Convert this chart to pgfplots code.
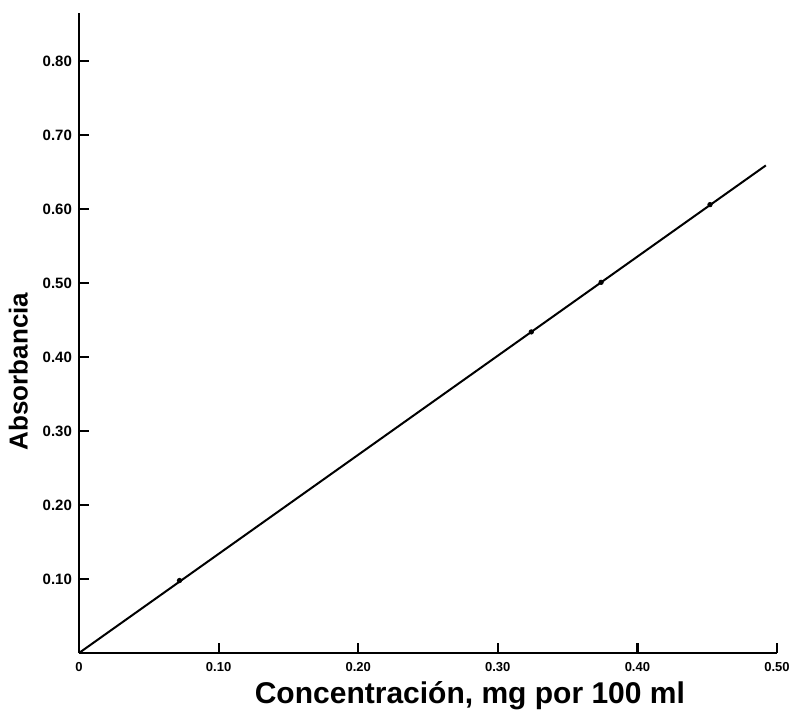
\documentclass[border=0pt]{standalone}
\usepackage{fontspec}
\setmainfont{Liberation Sans}
\usepackage{pgfplots}
\pgfplotsset{compat=1.18}
\begin{document}
\begin{tikzpicture}
\path[use as bounding box] (-39.5pt,-30pt) rectangle (355.5pt,326.5pt);
\begin{axis}[
  at={(0,0)}, anchor=south west,
  scale only axis,
  width=349pt, height=320pt,
  xmin=0, xmax=0.50, ymin=0, ymax=0.865,
  axis lines=left,
  axis line style={-, line width=1.2pt},
  tick style={line width=1.1pt, black},
  tick align=inside,
  major tick length=5pt,
  xtick={0,0.1,0.2,0.3,0.4,0.5},
  xticklabels={0,0.10,0.20,0.30,0.40,0.50},
  ytick={0.1,0.2,0.3,0.4,0.5,0.6,0.7,0.8},
  yticklabels={0.10,0.20,0.30,0.40,0.50,0.60,0.70,0.80},
  yticklabel style={font=\fontsize{7.5}{8}\selectfont\bfseries},
  xticklabel style={font=\fontsize{6.5}{7}\selectfont\bfseries, yshift=-1pt},
  xlabel={Concentración, mg por 100 ml},
  ylabel={Absorbancia},
  xlabel style={font=\fontsize{15}{17}\selectfont\bfseries, at={(axis description cs:0.56,-0.066)}, anchor=center},
  ylabel style={font=\fontsize{13}{15}\selectfont\bfseries, at={(axis description cs:-0.087,0.44)}, anchor=center},
  clip=false,
]
\addplot[black, line width=1pt] coordinates {(0,0) (0.492,0.659)};
\addplot[only marks, mark=*, mark size=1.1pt, black] coordinates {
  (0.072,0.098) (0.324,0.434) (0.374,0.501) (0.452,0.606)};
\end{axis}
\end{tikzpicture}
\end{document}
